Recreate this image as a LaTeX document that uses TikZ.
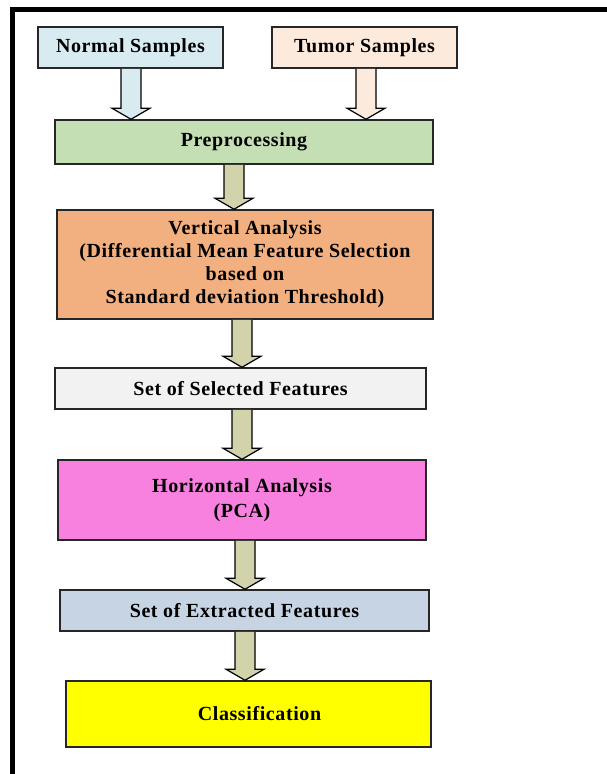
\documentclass[tikz,border=0pt]{standalone}
\usepackage{fontspec}
\setmainfont{Liberation Serif}
\usetikzlibrary{calc}
\definecolor{cNormal}{HTML}{D7EBF1}
\definecolor{cTumor}{HTML}{FCEBDD}
\definecolor{cPre}{HTML}{C4DFB4}
\definecolor{cVert}{HTML}{F2AF80}
\definecolor{cSel}{HTML}{F2F2F2}
\definecolor{cHor}{HTML}{F880DF}
\definecolor{cExt}{HTML}{C6D4E4}
\definecolor{cCls}{HTML}{FFFF00}
\definecolor{cArr}{HTML}{D2D3AA}
\newcommand\blockarr[4]{%
  \filldraw[fill=#4, draw=black, line width=1.2pt, line join=miter]
    ($(#1,0 |- #2.south)+(-10,0)$) --
    ($(#1,0 |- #3.north)+(-10,-11)$) --
    ($(#1,0 |- #3.north)+(-19,-11)$) --
    (#1,0 |- #3.north) --
    ($(#1,0 |- #3.north)+(19,-11)$) --
    ($(#1,0 |- #3.north)+(10,-11)$) --
    ($(#1,0 |- #2.south)+(10,0)$);
}
\begin{document}
\begin{tikzpicture}[x=1pt,y=-1pt,
  boxstyle/.style={draw=black!85, line width=1.5pt, rectangle, inner sep=0pt, align=center,
    font=\fontsize{20}{23}\selectfont\bfseries\addfontfeatures{LetterSpace=3}}]
\useasboundingbox (0,0) rectangle (607,774);
\fill[white] (0,0) rectangle (607,774);
\draw[line width=5pt] (12.5,774) -- (12.5,9) -- (607,9);

\node[boxstyle, fill=cNormal, minimum width=185pt, minimum height=41pt] (ns) at (130.5,47.5) {Normal Samples};
\node[boxstyle, fill=cTumor, minimum width=185pt, minimum height=41pt] (ts) at (364.5,47.5) {Tumor Samples};
\node[boxstyle, fill=cPre, minimum width=378pt, minimum height=44pt] (pre) at (244,142) {Preprocessing};
\node[boxstyle, fill=cVert, minimum width=376pt, minimum height=109pt] (va) at (245,264.5)
  {Vertical Analysis\\(Differential Mean Feature Selection\\based on\\Standard deviation Threshold)};
\node[boxstyle, fill=cSel, minimum width=371pt, minimum height=41pt] (sel) at (240.5,388.5) {Set of Selected Features};
\node[boxstyle, fill=cHor, minimum width=368pt, minimum height=80pt,
  font=\fontsize{20}{25}\selectfont\bfseries\addfontfeatures{LetterSpace=3}] (ha) at (242,500) {Horizontal Analysis\\(PCA)};
\node[boxstyle, fill=cExt, minimum width=369pt, minimum height=41pt] (ext) at (244.5,610.5) {Set of Extracted Features};
\node[boxstyle, fill=cCls, minimum width=365pt, minimum height=66pt] (cls) at (248.5,714) {\hspace*{22pt}Classification};

\blockarr{131}{ns}{pre}{cNormal}
\blockarr{366}{ts}{pre}{cTumor}
\blockarr{234}{pre}{va}{cArr}
\blockarr{242}{va}{sel}{cArr}
\blockarr{242}{sel}{ha}{cArr}
\blockarr{245}{ha}{ext}{cArr}
\blockarr{245}{ext}{cls}{cArr}
\end{tikzpicture}
\end{document}
